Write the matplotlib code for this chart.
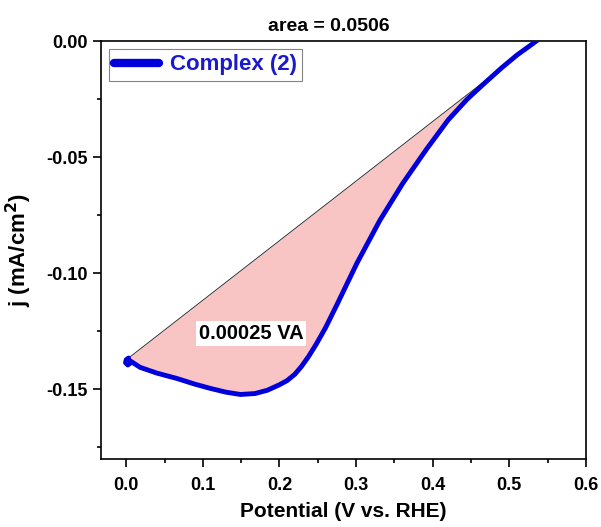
import numpy as np
import matplotlib.pyplot as plt

plt.rcParams['font.family'] = ['Liberation Sans', 'DejaVu Sans']
plt.rcParams['font.weight'] = 'bold'
plt.rcParams['mathtext.default'] = 'bf'

# curve (potential in V, current density in mA/cm2)
potential = [0.003, 0.000, -0.001, 0.002, 0.006, 0.004, 0.018, 0.040, 0.066, 0.090,
             0.110, 0.130, 0.149, 0.168, 0.184, 0.200, 0.210, 0.220, 0.229, 0.238,
             0.248, 0.260, 0.275, 0.301, 0.331, 0.361, 0.392, 0.420, 0.445, 0.468,
             0.490, 0.510, 0.531, 0.537]
current = [-0.1365, -0.1372, -0.1385, -0.1395, -0.1385, -0.1375, -0.1405, -0.1430, -0.1453, -0.1478,
           -0.1496, -0.1512, -0.1522, -0.1518, -0.1504, -0.1480, -0.1462, -0.1435, -0.1400, -0.1358,
           -0.1305, -0.1235, -0.1135, -0.0957, -0.0772, -0.0612, -0.0465, -0.0340, -0.0250, -0.0180,
           -0.0115, -0.0060, -0.0010, 0.0005]

# baseline from start to end of the wave
base_x = [0.003, 0.538]
base_y = [-0.1365, 0.0008]

area_title = 'area = 0.0506'
area_label = '0.00025 VA'

fig = plt.figure(figsize=(6.01, 5.27), dpi=100)
ax = fig.add_axes((0.168, 0.129, 0.807, 0.793))

# fill between baseline and curve
px = np.array(potential[5:])
py = np.array(current[5:])
by = np.interp(px, base_x, base_y)
ax.fill_between(px, py, np.maximum(by, py), color='#f9c4c4', linewidth=0, zorder=1)

ax.plot(base_x, base_y, color='#333333', linewidth=0.7, zorder=2)
ax.plot(potential, current, color='#0000dd', linewidth=3.5, solid_capstyle='round',
        solid_joinstyle='round', label='Complex (2)', zorder=3)

ax.text(0.163, -0.126, area_label, fontsize=14.5, fontweight='bold', ha='center', va='center',
        bbox=dict(facecolor='white', edgecolor='none', pad=2), zorder=4)

ax.set_xlim(-0.033, 0.6)
ax.set_ylim(-0.18, 0.0)
ax.set_xticks(np.arange(0.0, 0.61, 0.1))
ax.set_xticks(np.arange(0.05, 0.6, 0.1), minor=True)
ax.set_yticks([0.0, -0.05, -0.10, -0.15])
ax.set_yticks([-0.025, -0.075, -0.125, -0.175], minor=True)
ax.set_xticklabels(['0.0', '0.1', '0.2', '0.3', '0.4', '0.5', '0.6'])
ax.set_yticklabels(['0.00', '-0.05', '-0.10', '-0.15'])
ax.tick_params(axis='both', which='major', direction='out', length=6, width=1.2, labelsize=13)
ax.tick_params(axis='x', which='major', pad=7)
ax.tick_params(axis='both', which='minor', direction='out', length=3, width=1.2)
for s in ax.spines.values():
    s.set_linewidth(1.2)

ax.set_xlabel('Potential (V vs. RHE)', fontsize=15, fontweight='bold', labelpad=6)
ax.set_ylabel('j (mA/cm$^{2}$)', fontsize=16, fontweight='bold', labelpad=9)
ax.set_title(area_title, fontsize=14, fontweight='bold', pad=7, x=0.47)

leg = ax.legend(loc='upper left', fontsize=16, frameon=True, fancybox=False,
                borderaxespad=0.35, handlelength=2.0, borderpad=0.25, handletextpad=0.5)
leg.get_frame().set_edgecolor('#666666')
leg.get_frame().set_linewidth(0.8)
for t in leg.get_texts():
    t.set_color('#1a1acc')
for h in leg.get_lines():
    h.set_linewidth(6)

fig.savefig('out.png', dpi=100)
